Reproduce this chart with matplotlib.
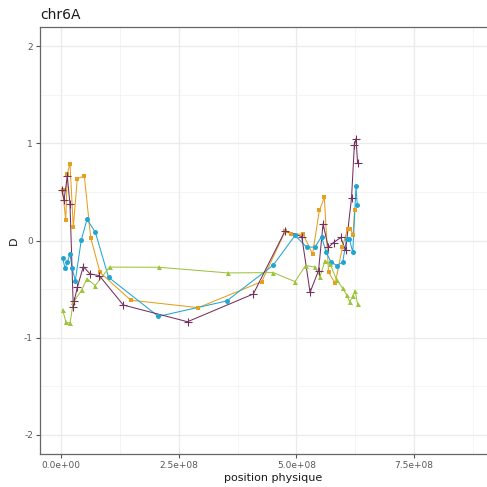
import matplotlib
matplotlib.use("Agg")
import matplotlib.pyplot as plt
from matplotlib.ticker import FixedLocator

# Data (position in Mb, D value)
orange_pos = [3.6, 10.0, 13.4, 19.1, 26.1, 34.6, 49.5, 63.1, 82.8, 148.0, 291.6, 426.3,
              475.8, 487.9, 514.6, 534.2, 548.6, 559.2, 568.2, 582.4, 597.5, 608.5,
              613.8, 620.2, 623.4]
orange_d = [0.517, 0.207, 0.689, 0.793, 0.137, 0.638, 0.665, 0.028, -0.328, -0.615, -0.692,
            -0.424, 0.093, 0.072, 0.062, -0.140, 0.310, 0.444, -0.328, -0.439, -0.072,
            0.121, 0.121, 0.057, 0.310]

blue_pos = [3.6, 8.5, 13.4, 19.1, 23.4, 30.4, 43.1, 55.2, 72.9, 100.9, 206.7, 351.9, 450.9,
            497.0, 521.9, 539.5, 553.3, 562.9, 573.5, 586.2, 598.3, 606.4, 612.3, 619.6,
            626.5, 629.3]
blue_d = [-0.179, -0.286, -0.224, -0.137, -0.282, -0.413, 0.007, 0.217, 0.086, -0.379,
          -0.782, -0.623, -0.253, 0.052, -0.069, -0.067, 0.041, -0.119, -0.224, -0.258,
          -0.222, 0.018, 0.018, -0.121, 0.558, 0.362]

green_pos = [3.6, 10.6, 19.1, 26.1, 44.0, 55.2, 72.6, 103.0, 208.8, 354.1, 450.9, 497.0,
             519.3, 539.5, 550.1, 560.7, 571.4, 585.2, 597.9, 606.4, 612.8, 620.2, 624.5,
             629.8]
green_d = [-0.716, -0.844, -0.851, -0.638, -0.510, -0.393, -0.465, -0.274, -0.276, -0.334,
           -0.331, -0.424, -0.258, -0.274, -0.372, -0.207, -0.243, -0.403, -0.491, -0.558,
           -0.630, -0.568, -0.517, -0.654]

purple_pos = [1.5, 6.4, 13.4, 19.1, 26.1, 28.2, 34.6, 47.4, 61.6, 81.3, 132.3, 268.7, 408.4,
              475.8, 511.3, 528.9, 546.9, 556.5, 567.7, 578.8, 594.1, 604.3, 617.0, 623.0,
              626.6, 629.8]
purple_d = [0.517, 0.421, 0.661, 0.372, -0.689, -0.620, -0.483, -0.269, -0.344, -0.362,
            -0.665, -0.837, -0.551, 0.098, 0.041, -0.534, -0.310, 0.171, -0.072, -0.021,
            0.031, -0.103, 0.441, 0.987, 1.051, 0.799]

x_ticks = [0, 2.5e8, 5.0e8, 7.5e8]
x_tick_labels = ["0.0e+00", "2.5e+08", "5.0e+08", "7.5e+08"]
y_ticks = [-2, -1, 0, 1, 2]
y_tick_labels = ["-2", "-1", "0", "1", "2"]

series = [
    (orange_pos, orange_d, "#E69F1E", "s", 3.4, 0),
    (blue_pos, blue_d, "#22A5D2", "o", 3.6, 0),
    (green_pos, green_d, "#9DC43C", "^", 3.6, 0),
    (purple_pos, purple_d, "#74305F", "+", 6, 0.8),
]

fig = plt.figure(figsize=(4.87, 4.87), dpi=100)
ax = fig.add_axes([40 / 487, 33 / 487, 466 / 487, 427 / 487])

for pos, d, col, mk, ms, mew in series:
    xs = [p * 1e6 for p in pos]
    ax.plot(xs, d, color=col, lw=0.75, zorder=3)
    if mk == "+":
        ax.plot(xs, d, ls="none", marker=mk, ms=ms, mew=mew, color=col, zorder=4)
    else:
        ax.plot(xs, d, ls="none", marker=mk, ms=ms, mew=0, color=col, zorder=4)

ax.set_xlim(-4.46e7, 9.45e8)
ax.set_ylim(-2.2, 2.2)

ax.xaxis.set_major_locator(FixedLocator(x_ticks))
ax.set_xticklabels(x_tick_labels)
ax.yaxis.set_major_locator(FixedLocator(y_ticks))
ax.set_yticklabels(y_tick_labels)
ax.xaxis.set_minor_locator(FixedLocator([1.25e8, 3.75e8, 6.25e8, 8.75e8]))
ax.yaxis.set_minor_locator(FixedLocator([-1.5, -0.5, 0.5, 1.5]))

ax.grid(True, which="major", color="#EBEBEB", lw=1.0, zorder=0)
ax.grid(True, which="minor", color="#F2F2F2", lw=0.6, zorder=0)
ax.set_axisbelow(True)

ax.tick_params(which="major", length=3, width=0.8, color="#555555",
               labelsize=6.5, labelcolor="#595959", pad=2)
ax.tick_params(which="minor", length=0)

for s in ax.spines.values():
    s.set_color("#666666")
    s.set_linewidth(0.9)

ax.set_xlabel("position physique", fontsize=8, color="#1a1a1a", labelpad=2)
ax.set_ylabel("D", fontsize=8, color="#1a1a1a", labelpad=4)
ax.set_title("chr6A", loc="left", fontsize=10, color="#1a1a1a", pad=6)

fig.savefig("out.png", dpi=100)
